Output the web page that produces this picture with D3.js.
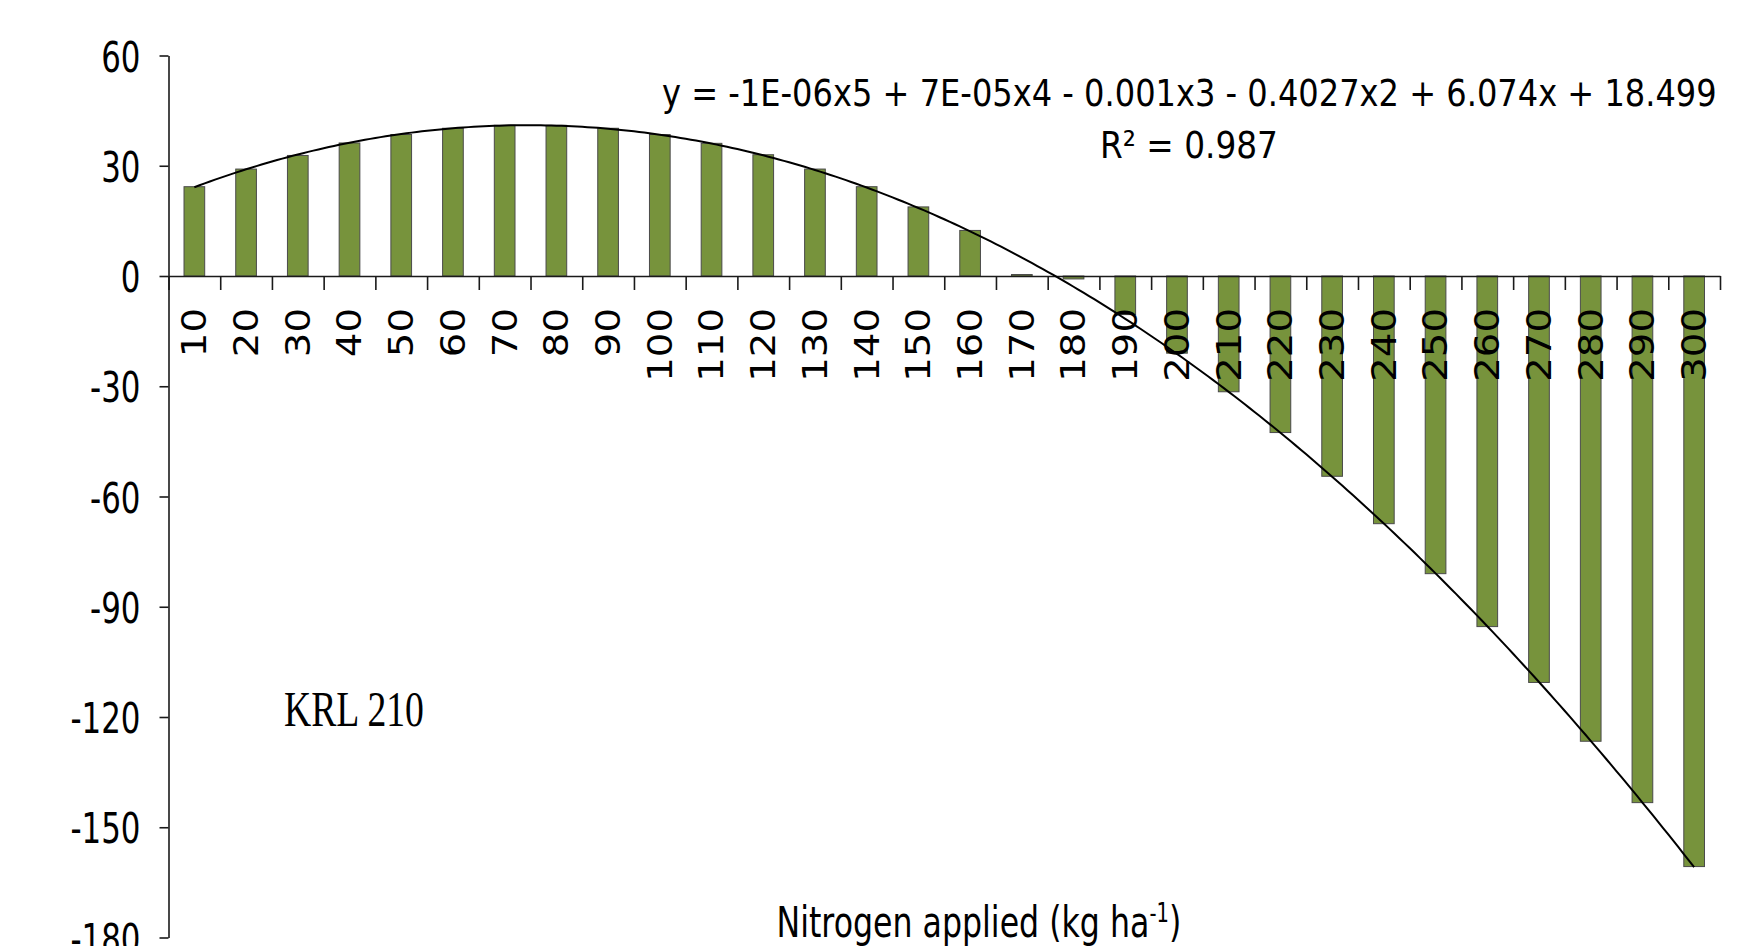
<!DOCTYPE html>
<html>
<head>
<meta charset="utf-8">
<script src="https://cdn.jsdelivr.net/npm/d3@7"></script>
<style>
  html, body { margin: 0; padding: 0; background: #ffffff; overflow: hidden; }
  svg { display: block; }
</style>
</head>
<body>
<svg id="chart" width="1763" height="946"></svg>
<script>
// Nitrogen rates (kg/ha) on the category axis
const nitrogenRates = [10, 20, 30, 40, 50, 60, 70, 80, 90, 100,
                       110, 120, 130, 140, 150, 160, 170, 180, 190, 200,
                       210, 220, 230, 240, 250, 260, 270, 280, 290, 300];

// Response values for cultivar KRL 210
const responseValues = [24.3, 29.1, 32.8, 36.2, 38.5, 40.2, 41.0, 41.0, 40.2, 38.5,
                        36.1, 33.0, 29.1, 24.3, 18.8, 12.4, 0.4, -0.8, -10.5, -21.0,
                        -31.5, -42.6, -54.5, -67.4, -81.0, -95.4, -110.6, -126.6, -143.3, -160.7];

// Value-axis ticks
const yTickValues = [60, 30, 0, -30, -60, -90, -120, -150, -180];

// Text annotations
const equationText = "y = -1E-06x5 + 7E-05x4 - 0.001x3 - 0.4027x2 + 6.074x + 18.499";
const rSquaredText = "R\u00B2 = 0.987";
const cultivarLabel = "KRL 210";
const axisTitleMain = "Nitrogen applied (kg ha";
const axisTitleSup = "-1";
const axisTitleEnd = ")";

const svg = d3.select("#chart");

const plotLeft = 168.5, plotRight = 1720;
const yTopPx = 55.5, yBottomPx = 937.5;

const x = d3.scaleBand()
  .domain(nitrogenRates)
  .range([plotLeft, plotRight])
  .paddingInner(0.6)
  .paddingOuter(0.3);

const y = d3.scaleLinear()
  .domain([-180, 60])
  .range([yBottomPx, yTopPx]);

// Category index (1-based) to pixel position, for the trendline
const idx = d3.scaleLinear().domain([0.5, nitrogenRates.length + 0.5]).range([plotLeft, plotRight]);

// Least-squares polynomial trendline (order 5) over the category index
function polyFit(xs, ys, deg) {
  const m = d3.mean(xs), s = (d3.max(xs) - d3.min(xs)) / 2;
  const n = deg + 1;
  const A = Array.from({ length: n }, () => new Array(n + 1).fill(0));
  xs.forEach((xv, i) => {
    const t = (xv - m) / s;
    const p = d3.range(n).map(k => Math.pow(t, k));
    for (let r = 0; r < n; r++) {
      for (let c = 0; c < n; c++) A[r][c] += p[r] * p[c];
      A[r][n] += p[r] * ys[i];
    }
  });
  for (let c = 0; c < n; c++) {
    let piv = c;
    for (let r = c + 1; r < n; r++) if (Math.abs(A[r][c]) > Math.abs(A[piv][c])) piv = r;
    [A[c], A[piv]] = [A[piv], A[c]];
    for (let r = 0; r < n; r++) {
      if (r === c) continue;
      const f = A[r][c] / A[c][c];
      for (let k = c; k <= n; k++) A[r][k] -= f * A[c][k];
    }
  }
  const coef = A.map((row, i) => row[n] / row[i]);
  return xv => {
    const t = (xv - m) / s;
    return coef.reduce((acc, c, k) => acc + c * Math.pow(t, k), 0);
  };
}

const categoryIndex = nitrogenRates.map((_, i) => i + 1);
const trend = polyFit(categoryIndex, responseValues, 5);

// Bars
svg.append("g")
  .selectAll("rect")
  .data(nitrogenRates)
  .join("rect")
  .attr("x", d => x(d))
  .attr("width", x.bandwidth())
  .attr("y", (d, i) => y(Math.max(0, responseValues[i])))
  .attr("height", (d, i) => Math.abs(y(responseValues[i]) - y(0)))
  .attr("fill", "#77933c")
  .attr("stroke", "#4a4a4a")
  .attr("stroke-width", 1);

// Value axis (plain hyphen for negative numbers)
const yAxis = svg.append("g")
  .attr("transform", `translate(${plotLeft},0)`)
  .call(d3.axisLeft(y).tickValues(yTickValues).tickSize(9).tickSizeOuter(0).tickFormat(d => String(d)));
yAxis.select(".domain").attr("stroke", "#1a1a1a").attr("stroke-width", 1.6);
yAxis.selectAll(".tick line").attr("stroke", "#1a1a1a").attr("stroke-width", 1.6);
yAxis.selectAll(".tick text")
  .attr("x", 0)
  .attr("dy", "0.36em")
  .attr("transform", "translate(-28,0) scale(0.71,1)")
  .style("font-family", "'DejaVu Sans', Verdana, sans-serif")
  .style("font-size", "43.5px")
  .attr("fill", "#000");

// Category axis: tick marks between categories, along the zero line
const boundaries = d3.scaleLinear().domain([0, nitrogenRates.length]).range([plotLeft, plotRight]);
const xAxis = svg.append("g")
  .attr("transform", `translate(0,${y(0)})`)
  .call(d3.axisBottom(boundaries).tickValues(d3.range(0, nitrogenRates.length + 1)).tickSize(14).tickSizeOuter(0).tickFormat(""));
xAxis.select(".domain").attr("stroke", "#1a1a1a").attr("stroke-width", 1.6);
xAxis.selectAll(".tick line").attr("stroke", "#1a1a1a").attr("stroke-width", 1.6);

// Rotated category labels
svg.append("g")
  .selectAll("text")
  .data(nitrogenRates)
  .join("text")
  .attr("transform", d => `translate(${x(d) + x.bandwidth() / 2},308) rotate(-90) scale(1.17,1)`)
  .attr("text-anchor", "end")
  .attr("dy", "0.36em")
  .style("font-family", "'DejaVu Sans', Verdana, sans-serif")
  .style("font-size", "33px")
  .attr("fill", "#000")
  .text(d => d);

// Polynomial trendline
const trendPoints = d3.range(1, nitrogenRates.length + 0.001, 0.1);
svg.append("path")
  .datum(trendPoints)
  .attr("fill", "none")
  .attr("stroke", "#000")
  .attr("stroke-width", 2)
  .attr("d", d3.line().x(t => idx(t)).y(t => y(trend(t))).curve(d3.curveLinear));

// Horizontal text placed by left edge, baseline and drawn width
function placeText(left, baseline, width, family, size, build) {
  const g = svg.append("g");
  const t = g.append("text")
    .attr("x", 0).attr("y", 0)
    .style("font-family", family)
    .style("font-size", size + "px")
    .attr("fill", "#000");
  build(t);
  const w = t.node().getBBox().width;
  g.attr("transform", `translate(${left},${baseline}) scale(${width / w},1)`);
  return g;
}

const sansFamily = "'DejaVu Sans', Verdana, sans-serif";

placeText(662, 106, 1055, sansFamily, 37, t => t.text(equationText));
placeText(1100, 158, 178, sansFamily, 38, t => t.text(rSquaredText));
placeText(284, 726, 140, "'Liberation Serif', 'Times New Roman', serif", 51, t => t.text(cultivarLabel));
placeText(776.5, 936.5, 405, sansFamily, 42, t => {
  t.append("tspan").text(axisTitleMain);
  t.append("tspan").attr("dy", -15).style("font-size", "26px").text(axisTitleSup);
  t.append("tspan").attr("dy", 15).text(axisTitleEnd);
});
</script>
</body>
</html>
